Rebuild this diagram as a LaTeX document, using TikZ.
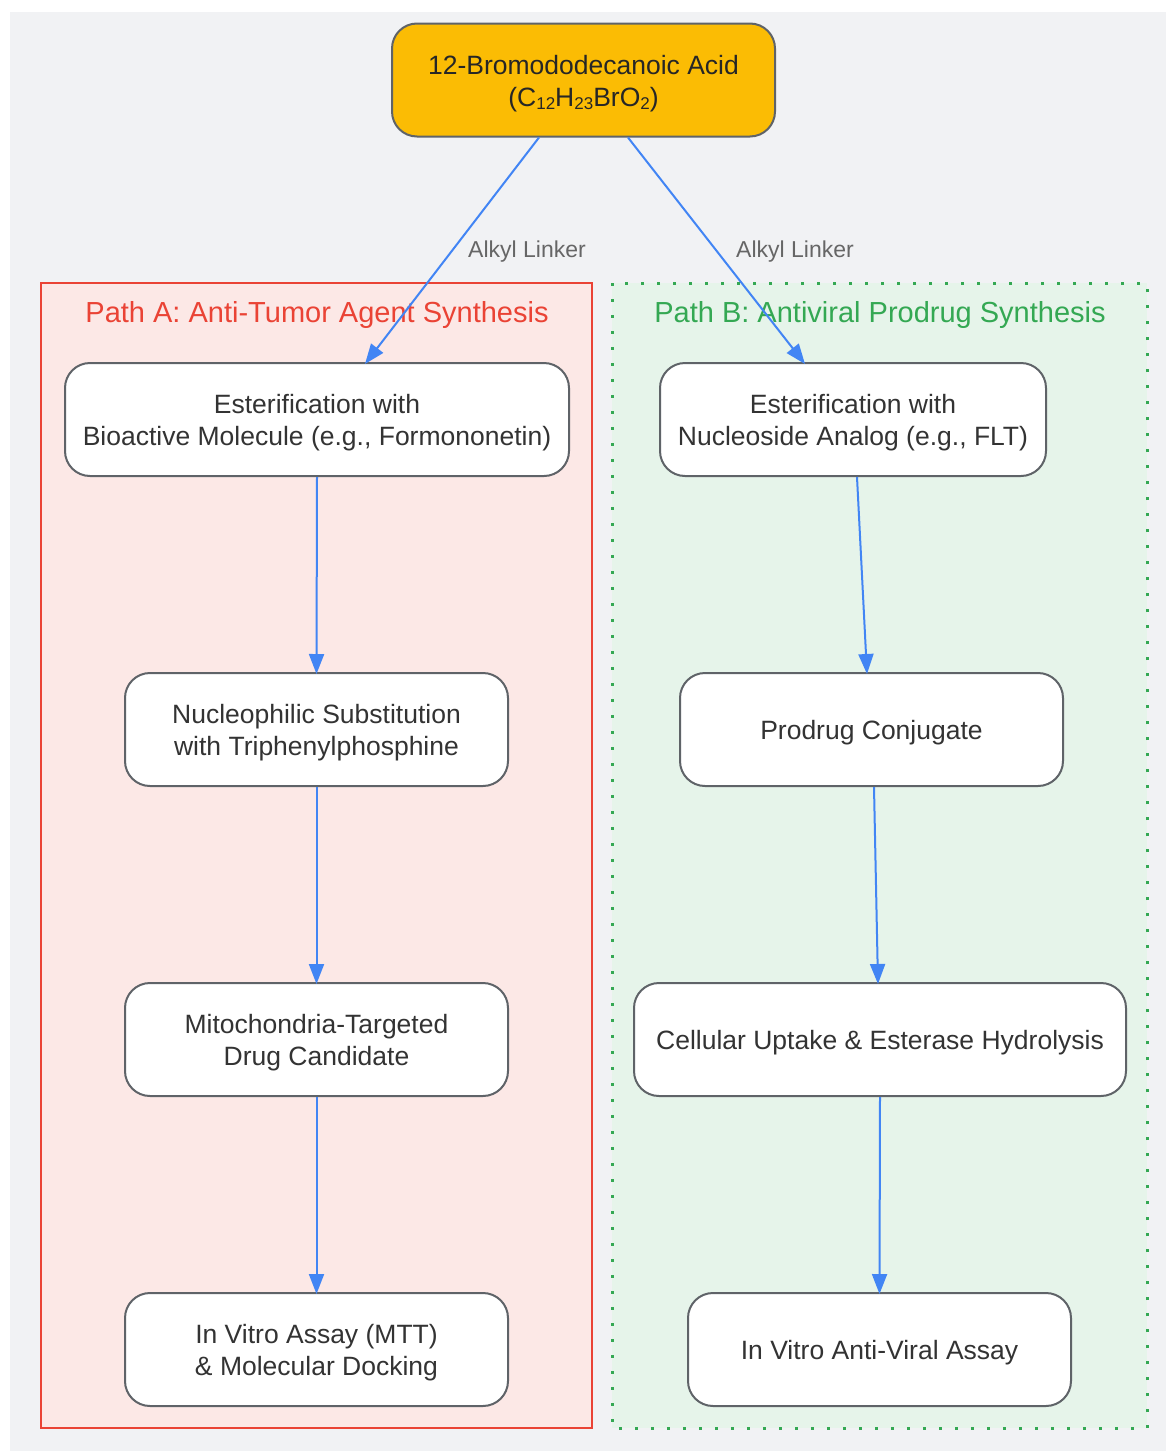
\documentclass[tikz,border=0pt]{standalone}
\usepackage{fontspec}
\setmainfont{Liberation Sans}
\usetikzlibrary{arrows.meta}
\definecolor{bgc}{HTML}{F1F2F4}
\definecolor{redc}{HTML}{EA4335}
\definecolor{redf}{HTML}{FCE8E6}
\definecolor{grnc}{HTML}{34A853}
\definecolor{grnf}{HTML}{E6F4EA}
\definecolor{edgec}{HTML}{4285F4}
\definecolor{bordc}{HTML}{5F6368}
\definecolor{txtc}{HTML}{333333}
\definecolor{lblc}{HTML}{666666}
\definecolor{goldc}{HTML}{FBBC04}
\newcommand{\sbs}[1]{\raisebox{-2.5pt}{\fontsize{17}{17}\selectfont #1}}
\newcommand{\fl}{\rule{0pt}{25pt}}
\begin{document}
\begin{tikzpicture}[x=1pt,y=-1pt,
  stepbox/.style={draw=bordc, line width=2pt, fill=white, rounded corners=25pt,
    minimum height=113pt, align=center, text=txtc, inner sep=0pt,
    font=\fontsize{26.5}{32}\selectfont},
  flow/.style={draw=edgec, line width=2pt, -{Triangle[length=20pt,width=15pt]}},
  lbl/.style={text=lblc, font=\fontsize{23}{28}\selectfont, inner sep=0pt},
  ttl/.style={font=\fontsize{29}{34}\selectfont, inner sep=0pt}
]
\useasboundingbox (0,0) rectangle (1166,1451);
\fill[white] (0,0) rectangle (1166,1451);
\fill[bgc] (10,12) rectangle (1166,1451);
% clusters
\draw[redc, line width=2pt, fill=redf] (41,283) rectangle (592,1428);
\fill[grnf] (612,283) rectangle (1147,1428);
\draw[grnc, line width=3pt, dash pattern=on 3pt off 13pt] (612,283) rectangle (1147,1428);
\node[ttl, text=redc] (tA) at (317,315) {Path A: Anti-Tumor Agent Synthesis};
\node[ttl, text=grnc] (tB) at (880,315) {Path B: Antiviral Prodrug Synthesis};
% nodes
\node[stepbox, fill=goldc, minimum width=383pt, text=black!85] (top) at (583.5,80)
  {\rule{0pt}{27pt}12-Bromododecanoic Acid\\(C\sbs{12}H\sbs{23}BrO\sbs{2})};
\node[stepbox, minimum width=504pt] (A1) at (317,419.5) {\fl Esterification with\\Bioactive Molecule (e.g., Formononetin)};
\node[stepbox, minimum width=383pt] (A2) at (316.5,729.5) {\fl Nucleophilic Substitution\\with Triphenylphosphine};
\node[stepbox, minimum width=383pt] (A3) at (316.5,1039.5) {\fl Mitochondria-Targeted\\Drug Candidate};
\node[stepbox, minimum width=383pt] (A4) at (316.5,1349.5) {\fl In Vitro Assay (MTT)\\\& Molecular Docking};
\node[stepbox, minimum width=386pt] (B1) at (853,419.5) {\fl Esterification with\\Nucleoside Analog (e.g., FLT)};
\node[stepbox, minimum width=383pt] (B2) at (871.5,729.5) {\rule{0pt}{25.5pt}Prodrug Conjugate};
\node[stepbox, minimum width=492pt] (B3) at (880,1039.5) {\rule{0pt}{25.5pt}Cellular Uptake \& Esterase Hydrolysis};
\node[stepbox, minimum width=383pt] (B4) at (879.5,1349.5) {\rule{0pt}{25.5pt}In Vitro Anti-Viral Assay};
% edges
\draw[flow] ([xshift=-44.5pt]top.south) -- ([xshift=48pt,yshift=-2pt]A1.north);
\draw[flow] ([xshift=44.5pt]top.south) -- ([xshift=-48pt,yshift=-2pt]B1.north);
\node[lbl] (l1) at (527,252) {Alkyl Linker};
\node[lbl] (l2) at (795,252) {Alkyl Linker};
\draw[flow] (A1.south) -- ([yshift=-2pt]A2.north);
\draw[flow] (A2.south) -- ([yshift=-2pt]A3.north);
\draw[flow] (A3.south) -- ([yshift=-2pt]A4.north);
\draw[flow] ([xshift=4pt]B1.south) -- ([xshift=-4.5pt,yshift=-2pt]B2.north);
\draw[flow] ([xshift=2.5pt]B2.south) -- ([xshift=-2pt,yshift=-2pt]B3.north);
\draw[flow] (B3.south) -- ([yshift=-2pt]B4.north);
\end{tikzpicture}
\end{document}
